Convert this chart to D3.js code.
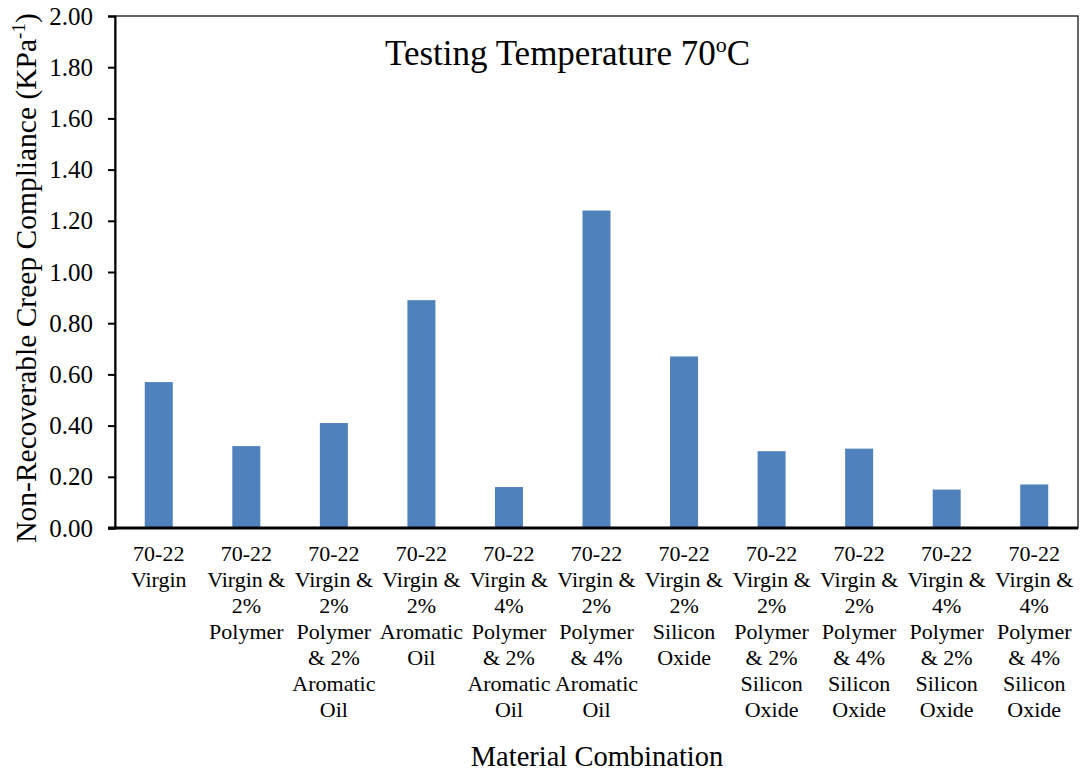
<!DOCTYPE html>
<html>
<head>
<meta charset="utf-8">
<script src="https://cdn.jsdelivr.net/npm/d3@7"></script>
<style>
  body { margin: 0; background: #fff; }
  svg, svg text { font-family: "Liberation Serif", "Times New Roman", serif; }
</style>
</head>
<body>
<script>
// category labels (one array of lines per bar)
const categories = [
    ["70-22", "Virgin"],
    ["70-22", "Virgin &", "2%", "Polymer"],
    ["70-22", "Virgin &", "2%", "Polymer", "& 2%", "Aromatic", "Oil"],
    ["70-22", "Virgin &", "2%", "Aromatic", "Oil"],
    ["70-22", "Virgin &", "4%", "Polymer", "& 2%", "Aromatic", "Oil"],
    ["70-22", "Virgin &", "2%", "Polymer", "& 4%", "Aromatic", "Oil"],
    ["70-22", "Virgin &", "2%", "Silicon", "Oxide"],
    ["70-22", "Virgin &", "2%", "Polymer", "& 2%", "Silicon", "Oxide"],
    ["70-22", "Virgin &", "2%", "Polymer", "& 4%", "Silicon", "Oxide"],
    ["70-22", "Virgin &", "4%", "Polymer", "& 2%", "Silicon", "Oxide"],
    ["70-22", "Virgin &", "4%", "Polymer", "& 4%", "Silicon", "Oxide"]
];
const values = [0.57, 0.32, 0.41, 0.89, 0.16, 1.24, 0.67, 0.30, 0.31, 0.15, 0.17];
const yTicks = [0, 0.2, 0.4, 0.6, 0.8, 1.0, 1.2, 1.4, 1.6, 1.8, 2.0];

const width = 1080, height = 774;
const margin = { top: 16, right: 2, bottom: 246, left: 115 };

const svg = d3.select("body").append("svg")
    .attr("width", width)
    .attr("height", height);

const x = d3.scaleBand()
    .domain(d3.range(values.length))
    .range([margin.left, width - margin.right])
    .paddingInner(0.68)
    .paddingOuter(0.34);

const y = d3.scaleLinear()
    .domain([0, 2])
    .range([height - margin.bottom, margin.top]);

// plot area border
svg.append("rect")
    .attr("x", margin.left)
    .attr("y", margin.top)
    .attr("width", width - margin.right - margin.left)
    .attr("height", height - margin.bottom - margin.top)
    .attr("fill", "none")
    .attr("stroke", "#000")
    .attr("stroke-width", 1.2);

// bars
svg.append("g")
    .selectAll("rect")
    .data(values)
    .join("rect")
    .attr("x", (d, i) => x(i))
    .attr("y", d => y(d))
    .attr("width", x.bandwidth())
    .attr("height", d => y(0) - y(d))
    .attr("fill", "#4f81bd");

// y axis
const yAxis = svg.append("g")
    .attr("transform", `translate(${margin.left},0)`)
    .call(d3.axisLeft(y).tickValues(yTicks).tickFormat(d3.format(".2f")).tickSize(7).tickPadding(15));
yAxis.attr("font-family", null).attr("font-size", null);
yAxis.select(".domain").attr("stroke-width", 2);
yAxis.selectAll(".tick line").attr("stroke-width", 2);
yAxis.selectAll("text")
    .style("font-family", "'Liberation Serif', serif")
    .style("font-size", "25px")
    .attr("fill", "#000");

// x axis line
svg.append("line")
    .attr("x1", margin.left - 7)
    .attr("x2", width - margin.right)
    .attr("y1", y(0))
    .attr("y2", y(0))
    .attr("stroke", "#000")
    .attr("stroke-width", 3);

// x category labels
const xl = svg.append("g")
    .style("font-size", "22px")
    .attr("text-anchor", "middle")
    .selectAll("text")
    .data(categories)
    .join("text")
    .attr("x", (d, i) => x(i) + x.bandwidth() / 2)
    .attr("y", y(0) + 33);
xl.selectAll("tspan")
    .data(d => d)
    .join("tspan")
    .attr("x", function () { return this.parentNode.getAttribute("x"); })
    .attr("dy", (d, i) => i === 0 ? 0 : 26)
    .text(d => d);

// chart title
const title = svg.append("text")
    .attr("x", 385)
    .attr("y", 65)
    .style("font-size", "35px");
title.append("tspan").text("Testing Temperature 70");
title.append("tspan").style("font-size", "22px").attr("dy", -13).text("o");
title.append("tspan").attr("dy", 13).text("C");

// y axis title
const yt = svg.append("text")
    .attr("transform", `translate(36,278) rotate(-90)`)
    .attr("text-anchor", "middle")
    .style("font-size", "29.5px");
yt.append("tspan").text("Non-Recoverable Creep Compliance (KPa");
yt.append("tspan").style("font-size", "19px").attr("dy", -11).text("-1");
yt.append("tspan").attr("dy", 11).text(")");

// x axis title
svg.append("text")
    .attr("x", 597)
    .attr("y", 766)
    .attr("text-anchor", "middle")
    .style("font-size", "28.5px")
    .text("Material Combination");
</script>
</body>
</html>
